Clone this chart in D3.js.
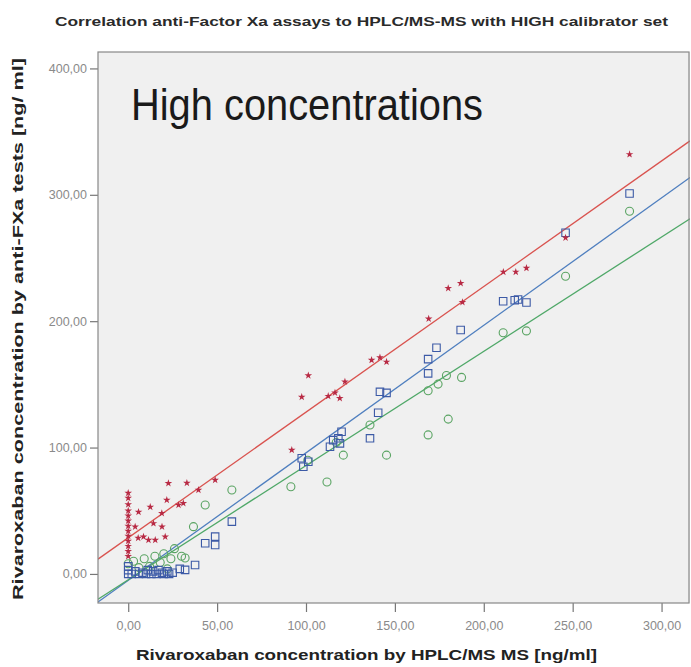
<!DOCTYPE html>
<html><head><meta charset="utf-8">
<script src="https://cdn.jsdelivr.net/npm/d3@7"></script>
<style>
html,body{margin:0;padding:0;background:#fff;}
svg{display:block;}
</style></head>
<body>
<script>
// ---- data ----
const titleText = "Correlation anti-Factor Xa assays to HPLC/MS-MS with HIGH calibrator set";
const xTitle = "Rivaroxaban concentration by HPLC/MS MS  [ng/ml]";
const yTitle = "Rivaroxaban concentration by anti-FXa tests  [ng/ ml]";
const panelLabel = "High concentrations";
const xTicks = [0, 50, 100, 150, 200, 250, 300];
const yTicks = [0, 100, 200, 300, 400];

const seriesNames = ["red", "blue", "green"];
// red stars
const redX = [0,0,0,0,0,0,0,0,0,0,0,0,0,3.9,5.6,5.8,8.6,11.4,12.4,14.2,15.2,18.9,19,20.8,21.7,22.6,28.3,31,33,39.5,48.9,92,97.6,101.3,112.5,116.3,119,121.9,136.9,141.6,145.3,169,180,187,188,211,218,224,246,282];
const redY = [64,60,55,50,46,42,38,34,30,26,22,18,14,37.4,28.5,49,29.5,26.9,53,40,26.9,48,37.4,29.5,58.5,71.7,54.5,56,72,66.4,74.3,98,140,157,140.7,143.3,139,152,169.2,171.3,167.8,202,226,230,215,239,239,242,266,332];
// blue squares
const blueX = [0,0,0,2,4,6,8,10,11,13,14,16,17,19,20,22,23,25,29,32,37.6,43.3,48.9,48.9,58.3,97.6,101.3,98.5,113.5,115.3,118.2,120,119.1,136,140.6,141.6,145.3,168.7,168.7,173.4,187,210.9,217.4,219.3,224,246,282];
const blueY = [0,3,6,0,2,0,1,0,3,0,2,0,3,1,0,2,0,1,4,3.2,7.1,24.3,29.5,22.9,41.4,91.5,88.8,84.8,100.6,105.9,107.3,112.5,103.3,107.3,127.5,144.1,143.3,158.7,170,179,193,215.8,216.6,217.2,214.8,270,301];
// green circles
const greenX = [0,3,6,9,12,15,18,20,22,24,26,30,32,36.7,43.3,58.3,91.5,101,111.8,117,121,136,145.3,168.7,168.7,174.3,179,180,187.5,210.9,224,246,282];
const greenY = [8,10,5,12,6,14,9,16,4,12,20,14,12.6,37.4,54.5,66.4,69,90,72.7,104,94,117.8,94,110,145,150.2,157,122.5,155.5,190.8,192.3,235.6,287];
// fit lines
const fitIntercept = [28.6, -5.1, -4.6];
const fitSlope = [0.994, 1.009, 0.904];

// ---- drawing ----
(function () {
const W = 691, H = 667;
const svg = d3.select("body").append("svg").attr("width", W).attr("height", H);
const pL = 98, pR = 690, pT = 52, pB = 603;
const x = d3.scaleLinear().domain([-17, 316]).range([pL, pR]);
const y = d3.scaleLinear().domain([-23, 413]).range([pB, pT]);
const fmt = d => d3.format(".2f")(d).replace(".", ",");
const font = "'Liberation Sans',Arial,sans-serif";

svg.append("rect").attr("x", pL).attr("y", pT).attr("width", pR - pL).attr("height", pB - pT)
  .attr("fill", "#f0f0f0");

svg.append("defs").append("clipPath").attr("id", "clip")
  .append("rect").attr("x", pL).attr("y", pT).attr("width", pR - pL).attr("height", pB - pT);

// axes
const xa = svg.append("g").attr("transform", `translate(0,${pB})`)
  .call(d3.axisBottom(x).tickValues(xTicks).tickFormat(fmt).tickSize(9).tickPadding(9));
const ya = svg.append("g").attr("transform", `translate(${pL},0)`)
  .call(d3.axisLeft(y).tickValues(yTicks).tickFormat(fmt).tickSize(8).tickPadding(3));
[xa, ya].forEach(g => {
  g.select(".domain").remove();
  g.selectAll("line").attr("stroke", "#777").attr("stroke-width", 1.2);
  g.selectAll("text").attr("fill", "#8a8a8a").style("font-family", font).style("font-size", "12.5px");
});

const colors = {red: "#d9534f", blue: "#4f7fbf", green: "#4fa868"};
const mcol = {red: "#b82a44", blue: "#3c5aa6", green: "#5aa463"};
const pg = svg.append("g").attr("clip-path", "url(#clip)");

// fit lines
seriesNames.forEach((s, i) => {
  const xs = [-17, 316];
  pg.append("line")
    .attr("x1", x(xs[0])).attr("y1", y(fitIntercept[i] + fitSlope[i] * xs[0]))
    .attr("x2", x(xs[1])).attr("y2", y(fitIntercept[i] + fitSlope[i] * xs[1]))
    .attr("stroke", colors[s]).attr("stroke-width", 1.3);
});

// green circles
pg.selectAll(".g").data(d3.zip(greenX, greenY)).enter().append("circle")
  .attr("cx", d => x(d[0])).attr("cy", d => y(d[1])).attr("r", 4)
  .attr("fill", "none").attr("stroke", mcol.green).attr("stroke-width", 1.1);
// blue squares
pg.selectAll(".b").data(d3.zip(blueX, blueY)).enter().append("path")
  .attr("d", d3.symbol().type(d3.symbolSquare).size(56))
  .attr("transform", d => `translate(${x(d[0])},${y(d[1])})`)
  .attr("fill", "none").attr("stroke", mcol.blue).attr("stroke-width", 1.1);
// red stars
pg.selectAll(".r").data(d3.zip(redX, redY)).enter().append("path")
  .attr("d", d3.symbol().type(d3.symbolStar).size(18))
  .attr("transform", d => `translate(${x(d[0])},${y(d[1])})`)
  .attr("fill", mcol.red);

// frame
svg.append("rect").attr("x", pL).attr("y", pT).attr("width", pR - pL - 1).attr("height", pB - pT)
  .attr("fill", "none").attr("stroke", "#888").attr("stroke-width", 1.2);

// texts
svg.append("text").attr("x", 55).attr("y", 26).text(titleText)
  .attr("textLength", 613).attr("lengthAdjust", "spacingAndGlyphs")
  .style("font-family", font).style("font-size", "13px").style("font-weight", "bold").attr("fill", "#2a2a2a");
svg.append("text").attr("x", 136).attr("y", 660).text(xTitle)
  .attr("textLength", 461).attr("lengthAdjust", "spacingAndGlyphs")
  .style("font-family", font).style("font-size", "15px").style("font-weight", "bold").attr("fill", "#222");
svg.append("text").attr("transform", "translate(23,600) rotate(-90)").text(yTitle)
  .attr("textLength", 542).attr("lengthAdjust", "spacingAndGlyphs")
  .style("font-family", font).style("font-size", "15px").style("font-weight", "bold").attr("fill", "#222");
svg.append("text").attr("x", 131).attr("y", 120).text(panelLabel)
  .attr("textLength", 352).attr("lengthAdjust", "spacingAndGlyphs")
  .style("font-family", font).style("font-size", "44px").attr("fill", "#1a1a1a");
})();
</script>
</body></html>
